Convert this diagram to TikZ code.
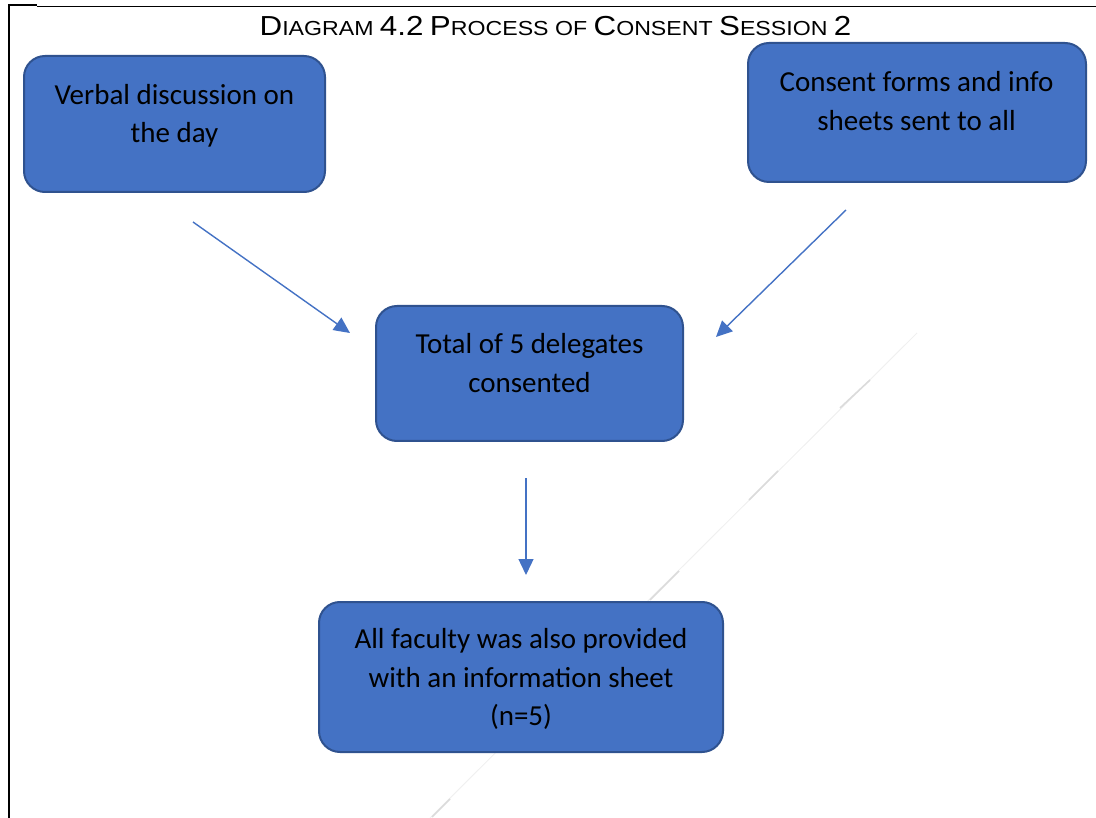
\documentclass[tikz,border=0pt]{standalone}
\usepackage{fontspec}
\usepackage{graphicx}
\setmainfont{Carlito}
\newfontfamily\titlefont{Liberation Sans}
\usetikzlibrary{arrows.meta}
\definecolor{boxfill}{HTML}{4472C4}
\definecolor{boxline}{HTML}{2F528F}
\definecolor{arrowblue}{HTML}{4472C4}
% larger capitals for the small-caps heading
\newcommand\capsize[1]{{\fontsize{27.5}{30}\selectfont #1}}
\tikzset{
  stepbox/.style={draw=boxline, line width=2pt, fill=boxfill, rounded corners=21pt, inner sep=0pt},
  boxtext/.style={align=center, font=\fontsize{29}{38.5}\selectfont, text=black, inner sep=0pt},
  flow/.style={draw=arrowblue, line width=1.4pt, -{Triangle[length=16pt,width=15pt]}},
  pageframe/.style={draw=black},
  stray/.style={draw=gray!12, line width=1pt},
  strayseg/.style={draw=gray!28, line width=1.6pt}
}
\begin{document}
\begin{tikzpicture}[x=1pt,y=-1pt]
\useasboundingbox (0,0) rectangle (1096,818);

% page frame
\draw[pageframe, line width=2pt] (8,5) -- (37,5);
\draw[pageframe, line width=1pt] (37,7) -- (1096,7);
\draw[pageframe, line width=2.2pt] (9,5) -- (9,818);

% faint stray stroke behind the boxes
\coordinate (s1) at (917,333);
\coordinate (s2) at (430,818);
\draw[stray] (s1) -- (s2);
\draw[strayseg] (870,380) -- (840,408);
\draw[strayseg] (778,471) -- (749,500);
\draw[strayseg] (679,571) -- (650,600);
\draw[strayseg] (450,799) -- (432,817);

% heading
\node[anchor=base, inner sep=0pt] (title) at (555.5,36)
  {\scalebox{1.14}[1]{\titlefont\fontsize{20.3}{24}\selectfont
   \capsize{D}IAGRAM \capsize{4.2} \capsize{P}ROCESS OF \capsize{C}ONSENT \capsize{S}ESSION \capsize{2}}};

% boxes
\node[stepbox, minimum width=301pt, minimum height=136pt] (b1) at (174.5,124) {};
\node[stepbox, minimum width=338pt, minimum height=139pt] (b2) at (917,112.5) {};
\node[stepbox, minimum width=307pt, minimum height=135pt] (b3) at (529.5,373.5) {};
\node[stepbox, minimum width=404pt, minimum height=150pt] (b4) at (521,677) {};

% box texts
\node[boxtext] (l1) at (174.5,116) {Verbal discussion on\\the day};
\node[boxtext] (l2) at (916.5,101) {Consent forms and info\\sheets sent to all};
\node[boxtext] (l3) at (529.5,363) {Total of 5 delegates\\consented};
\node[boxtext] (l4) at (521,679) {All faculty was also provided\\with an information sheet\\(n=5)};

% connectors
\coordinate (a1s) at (193,222);
\coordinate (a1e) at (350,333);
\coordinate (a2s) at (846,210);
\coordinate (a2e) at (716,337);
\coordinate (a3s) at (526,478);
\coordinate (a3e) at (526,575);
\draw[flow] (a1s) -- (a1e);
\draw[flow] (a2s) -- (a2e);
\draw[flow] (a3s) -- (a3e);
\end{tikzpicture}
\end{document}
